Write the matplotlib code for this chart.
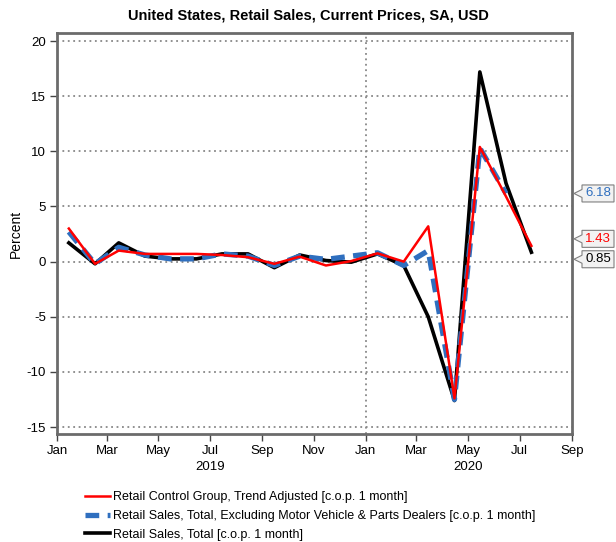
import matplotlib
matplotlib.use("Agg")
import matplotlib.pyplot as plt
import matplotlib.dates as mdates
import matplotlib.transforms as mtransforms
from matplotlib.patches import Polygon
import pandas as pd

plt.rcParams['font.family'] = ['Liberation Sans', 'DejaVu Sans']
plt.rcParams['axes.unicode_minus'] = False

# monthly change, %, Jan 2019 .. Jul 2020
months = pd.date_range('2019-01-01', '2020-07-01', freq='MS') + pd.Timedelta(days=14)

control_group = [3.0, -0.2, 1.0, 0.7, 0.7, 0.7, 0.6, 0.4, -0.2, 0.45, -0.35, 0.05,
                 0.75, 0.0, 3.2, -12.4, 10.4, 5.9, 1.43]
ex_motor = [2.7, -0.2, 1.3, 0.6, 0.25, 0.25, 0.7, 0.5, -0.35, 0.5, 0.2, 0.5,
            0.8, -0.35, 1.0, -12.5, 10.3, 6.18]
total = [1.7, -0.2, 1.7, 0.5, 0.25, 0.25, 0.7, 0.7, -0.55, 0.6, 0.1, -0.05,
         0.7, -0.35, -5.0, -12.6, 17.2, 7.1, 0.85]

names = ["Retail Control Group, Trend Adjusted [c.o.p. 1 month]",
         "Retail Sales, Total, Excluding Motor Vehicle & Parts Dealers [c.o.p. 1 month]",
         "Retail Sales, Total [c.o.p. 1 month]"]

red = '#ff0000'
blue = '#2f6fbf'
black = '#000000'

fig = plt.figure(figsize=(6.16, 5.42), dpi=100)
ax = fig.add_axes([57/616, 1-434/542, (572-57)/616, (434-33)/542])

ax.plot(months, control_group, color=red, lw=1.8, label=names[0], zorder=4)
ax.plot(months[:len(ex_motor)], ex_motor, color=blue, lw=3.8, ls=(0, (2.6, 1.6)),
        label=names[1], zorder=3)
ax.plot(months, total, color=black, lw=2.6, label=names[2], zorder=2)

ax.set_xlim(pd.Timestamp('2019-01-01'), pd.Timestamp('2020-09-01'))
ax.set_ylim(-15.63, 20.73)
ax.set_yticks([-15, -10, -5, 0, 5, 10, 15, 20])
ax.xaxis.set_major_locator(mdates.MonthLocator(bymonth=[1, 3, 5, 7, 9, 11]))
ax.xaxis.set_major_formatter(mdates.DateFormatter('%b'))

for s in ax.spines.values():
    s.set_color('#6b6b6b')
    s.set_linewidth(2)
ax.tick_params(axis='both', direction='out', length=5, width=1, color='#444444',
               labelsize=9.5, pad=3)

gridkw = dict(color='#888888', lw=1.3, ls=(0, (1, 2)), zorder=1)
for y in ax.get_yticks():
    ax.axhline(y, **gridkw)
ax.axvline(pd.Timestamp('2020-01-01'), **gridkw)

# year labels under the month ticks
trans = mtransforms.blended_transform_factory(ax.transData, ax.transAxes)
ax.text(pd.Timestamp('2019-07-01'), -0.068, '2019', transform=trans,
        ha='center', va='top', fontsize=9.5)
ax.text(pd.Timestamp('2020-05-01'), -0.068, '2020', transform=trans,
        ha='center', va='top', fontsize=9.5)

ax.set_ylabel('Percent', fontsize=10)
ax.yaxis.set_label_coords(-0.066, 0.5)
fig.suptitle('United States, Retail Sales, Current Prices, SA, USD',
             fontsize=10.5, fontweight='bold', y=1-15/542, va='center')

# last-value tags at the right edge
anchor = mtransforms.blended_transform_factory(ax.transAxes, ax.transData)
tags = [(ex_motor[-1], blue, 0), (control_group[-1], red, 7), (total[-1], black, -7)]
for val, col, nudge in tags:
    tr = mtransforms.Affine2D().translate(0, nudge) + \
        mtransforms.ScaledTranslation(1.0, val, anchor)
    h = 8.5
    verts = [(2, 0), (10, -4), (10, -h), (42, -h), (42, h), (10, h), (10, 4)]
    poly = Polygon(verts, closed=True, facecolor='#f2f2f2', edgecolor='#7f7f7f',
                   lw=0.8, transform=tr, clip_on=False)
    fig.add_artist(poly)
    fig.text(0, 0, f'{val:.2f}', color=col, fontsize=9.5, ha='center', va='center',
             transform=mtransforms.Affine2D().translate(26, 0) + tr)

leg = fig.legend(loc='upper left', bbox_to_anchor=(80/616, 1-486/542),
                 frameon=False, fontsize=9, handlelength=2.0, handletextpad=0.25,
                 labelspacing=0.55, borderaxespad=0)

fig.savefig('out.png', dpi=100)
